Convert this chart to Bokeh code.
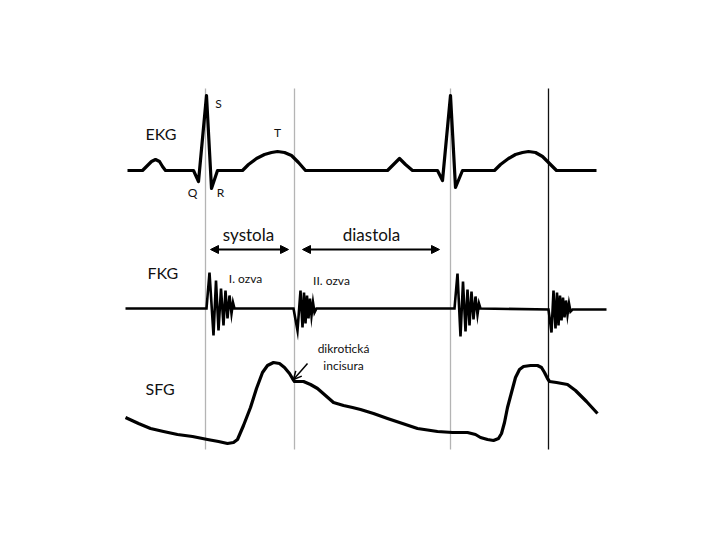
from bokeh.plotting import figure
from bokeh.models import Range1d, Arrow, NormalHead, OpenHead
from bokeh.core.properties import value
from bokeh.embed import file_html
from bokeh.resources import INLINE

# ---- data (image-like coordinates: x = time, y = signal, downward) ----
ekg_x = [127, 142, 146, 151, 155, 159, 162, 165, 193, 198, 206, 211, 217, 242, 248, 256, 264, 271, 277, 284,
         291, 298, 305, 387, 393, 399, 405, 412, 437, 442, 450, 455, 462, 494, 500, 508, 515, 522, 528, 535,
         542, 549, 556, 596]
ekg_y = [170, 170, 166, 161, 159, 161, 166, 170, 170, 181, 95, 188, 170, 170, 164, 158, 154, 152, 151, 152,
         155, 162, 170, 170, 164, 158, 164, 170, 170, 180, 95, 187, 170, 170, 164, 158, 154, 152, 151, 152,
         156, 163, 170, 170]

fkg_x = [125, 206, 209, 213, 215.5, 218, 220.5, 223, 225, 227, 229, 231, 232.5, 234,
         293, 297, 300, 302, 303.5, 305, 306.5, 308, 309.5, 311, 312.5, 314, 316,
         454, 457, 460, 462.5, 465, 467, 469, 471, 473, 475, 477, 478.5, 480,
         548, 551, 553, 555, 556.5, 558, 559.5, 561, 562.5, 564, 565.5, 567, 568.5, 570, 572, 606]
fkg_y = [308, 308, 272, 335, 280, 330, 288, 325, 290, 318, 295, 313, 302, 308,
         308, 330, 290, 327, 292, 323, 295, 318, 298, 315, 302, 312, 308,
         308, 273, 336, 281, 331, 289, 325, 291, 319, 296, 314, 303, 308,
         309, 332, 290, 328, 292, 325, 295, 320, 297, 317, 300, 314, 303, 311, 309, 309]

sfg_x = [125, 138, 150, 163, 177, 192, 207, 218, 227, 233, 237, 243, 250, 256, 262, 267, 273, 279, 284, 289,
         292, 294, 298, 303, 310, 317, 325, 333, 343, 352, 360, 373, 387, 402, 417, 437, 452, 467, 475, 480,
         487, 493, 498, 501, 504, 507, 511, 515, 519, 523, 530, 537, 541, 544, 547, 549, 556, 567, 575, 586, 597]
sfg_y = [417, 423, 428, 431, 434, 436, 439, 441, 443, 442, 439, 425, 407, 388, 372, 365, 362, 363, 367, 373,
         378, 381, 381, 381, 384, 388, 395, 402, 405, 407, 409, 413, 418, 423, 428, 431, 432, 432, 434, 437,
         439, 440, 438, 433, 422, 407, 392, 377, 369, 366, 365, 365, 367, 372, 378, 381, 382, 384, 390, 401, 413]

marker_x = [205, 294, 450, 548]
marker_top = [88, 88, 88, 88]
marker_bottom = [449, 449, 449, 449]
marker_color = ["#b4b4b4", "#b4b4b4", "#b4b4b4", "#111111"]

big_labels = ["EKG", "FKG", "SFG"]
big_label_x = [145, 147, 145]
big_label_y = [133, 272, 388]

phase_labels = ["systola", "diastola"]
phase_label_x = [248, 371]
phase_label_y = [234, 234]
phase_start = [210, 302]
phase_end = [288, 439]
phase_y = 249

wave_labels = ["S", "T", "Q", "R", "I. ozva", "II. ozva", "dikrotická", "incisura"]
wave_label_x = [218, 277, 192, 220, 245, 331, 343, 343]
wave_label_y = [103, 132, 192, 192, 278, 280, 348, 365]

p = figure(width=704, height=524, output_backend="svg", toolbar_location=None,
           x_range=Range1d(0, 704), y_range=Range1d(524, 0), min_border=0)
p.axis.visible = False
p.grid.visible = False
p.outline_line_color = None
p.background_fill_color = "white"

p.segment(x0=marker_x, y0=marker_top, x1=marker_x, y1=marker_bottom,
          line_color=marker_color, line_width=1.3)

p.line(ekg_x, ekg_y, line_color="black", line_width=3.2, line_join="round")
p.line(fkg_x, fkg_y, line_color="black", line_width=2.6, line_join="miter")
p.line(sfg_x, sfg_y, line_color="black", line_width=3.2, line_join="round")

p.text(x=big_label_x, y=big_label_y, text=big_labels, text_font=value("Lato"),
       text_font_size="16px", text_baseline="middle", text_align="left", text_color="#111111")
p.text(x=phase_label_x, y=phase_label_y, text=phase_labels, text_font=value("Lato"),
       text_font_size="17px", text_baseline="middle", text_align="center", text_color="#111111")
p.text(x=wave_label_x, y=wave_label_y, text=wave_labels, text_font=value("Lato"),
       text_font_size="12px", text_baseline="middle", text_align="center", text_color="#111111")

for xs, xe in zip(phase_start, phase_end):
    p.add_layout(Arrow(x_start=xs, y_start=phase_y, x_end=xe, y_end=phase_y, line_width=2,
                       start=NormalHead(size=8, fill_color="black", line_color="black"),
                       end=NormalHead(size=8, fill_color="black", line_color="black")))

p.add_layout(Arrow(x_start=307, y_start=363, x_end=293, y_end=379, line_width=1.5,
                   end=OpenHead(size=8, line_width=1.5)))

open("out.html", "w").write(file_html(p, INLINE))
